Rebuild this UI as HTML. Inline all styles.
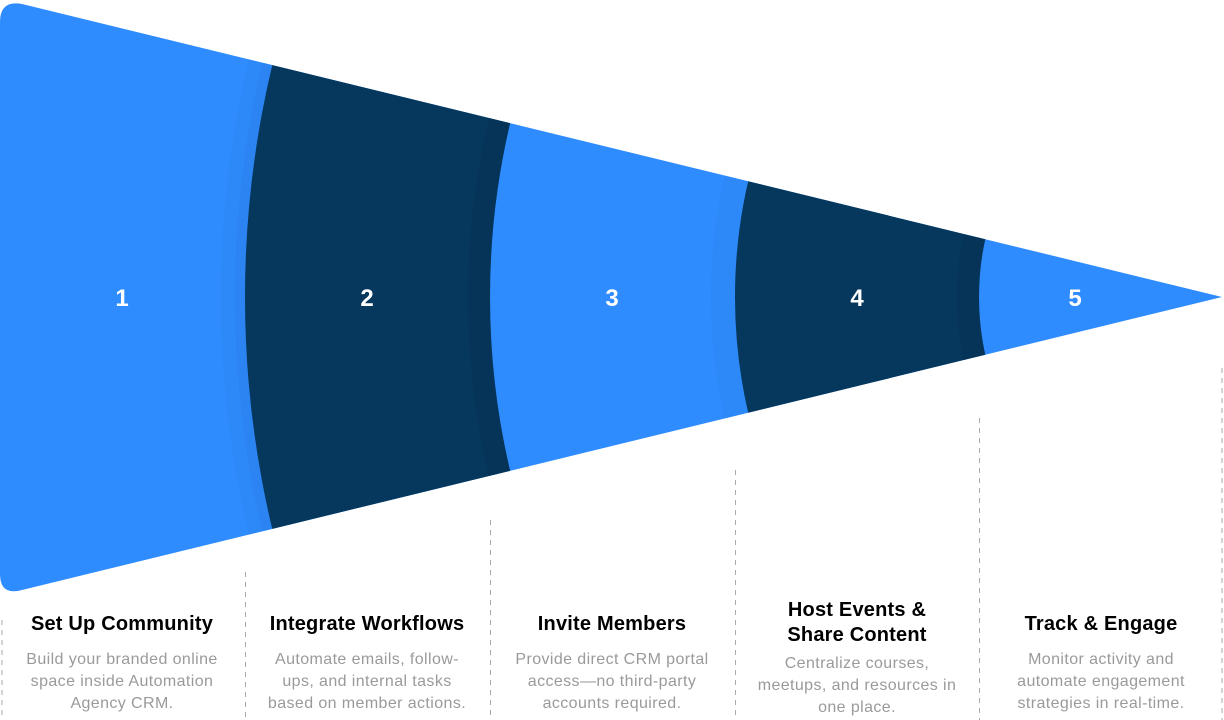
<!DOCTYPE html>
<html><head><meta charset="utf-8"><style>
html,body{margin:0;width:1224px;height:720px;overflow:hidden}
body{background:#fff;position:relative;font-family:"Liberation Sans",sans-serif}
.t{position:absolute;width:240px;text-align:center;font-weight:bold;font-size:20px;color:#000;line-height:25px;letter-spacing:0.2px;white-space:nowrap}
.d{position:absolute;width:240px;text-align:center;font-size:16px;color:#9a9a9a;line-height:22px;letter-spacing:0.4px;white-space:nowrap;overflow:hidden;max-height:70px}
</style></head><body>
<svg width="1224" height="720" style="position:absolute;left:0;top:0">
<defs>
<clipPath id="tri"><path d="M0,22 Q0,0 22,4 L1222,297 L22,590 Q0,596 0,574 Z"/></clipPath>
</defs>
<g clip-path="url(#tri)">
<rect width="1224" height="720" fill="#2e8cff"/>
<g fill="none">
<circle cx="1247" cy="297" r="1014" stroke="#2a80ea" stroke-width="24" opacity="0.35"/>
<circle cx="1247" cy="297" r="1007" stroke="#2a80ea" stroke-width="10" opacity="0.5"/>
<circle cx="1247" cy="297" r="879.5" stroke="#06375c" stroke-width="245"/>
<circle cx="1247" cy="297" r="768" stroke="#05304f" stroke-width="22" opacity="0.35"/>
<circle cx="1247" cy="297" r="524" stroke="#2a80ea" stroke-width="24" opacity="0.35"/>
<circle cx="1247" cy="297" r="390" stroke="#06375c" stroke-width="244"/>
<circle cx="1247" cy="297" r="279" stroke="#05304f" stroke-width="22" opacity="0.35"/>
</g>
</g>
<g fill="#fff" font-family="Liberation Sans" font-weight="bold" font-size="24" text-anchor="middle">
<text x="122" y="306">1</text><text x="367" y="306">2</text><text x="612" y="306">3</text><text x="857" y="306">4</text><text x="1075" y="306">5</text>
</g>
<g stroke="#aaa" stroke-width="1" stroke-dasharray="5,5">
<line x1="2" y1="620" x2="2" y2="720"/>
<line x1="245.5" y1="572" x2="245.5" y2="720"/>
<line x1="490.5" y1="520" x2="490.5" y2="720"/>
<line x1="735.5" y1="470" x2="735.5" y2="720"/>
<line x1="979.5" y1="418" x2="979.5" y2="720"/>
<line x1="1222" y1="368" x2="1222" y2="720"/>
</g>
</svg>
<div class="t" style="left:2px;top:612px">Set Up Community</div>
<div class="d" style="left:2px;top:649px">Build your branded online<br>space inside Automation<br>Agency CRM.</div>
<div class="t" style="left:247px;top:612px">Integrate Workflows</div>
<div class="d" style="left:247px;top:649px">Automate emails, follow-<br>ups, and internal tasks<br>based on member actions.</div>
<div class="t" style="left:492px;top:612px">Invite Members</div>
<div class="d" style="left:492px;top:649px">Provide direct CRM portal<br>access—no third-party<br>accounts required.</div>
<div class="t" style="left:737px;top:598px">Host Events &amp;<br>Share Content</div>
<div class="d" style="left:737px;top:653px;max-height:67px">Centralize courses,<br>meetups, and resources in<br>one place.</div>
<div class="t" style="left:981px;top:612px">Track &amp; Engage</div>
<div class="d" style="left:981px;top:649px">Monitor activity and<br>automate engagement<br>strategies in real-time.</div>
</body></html>
